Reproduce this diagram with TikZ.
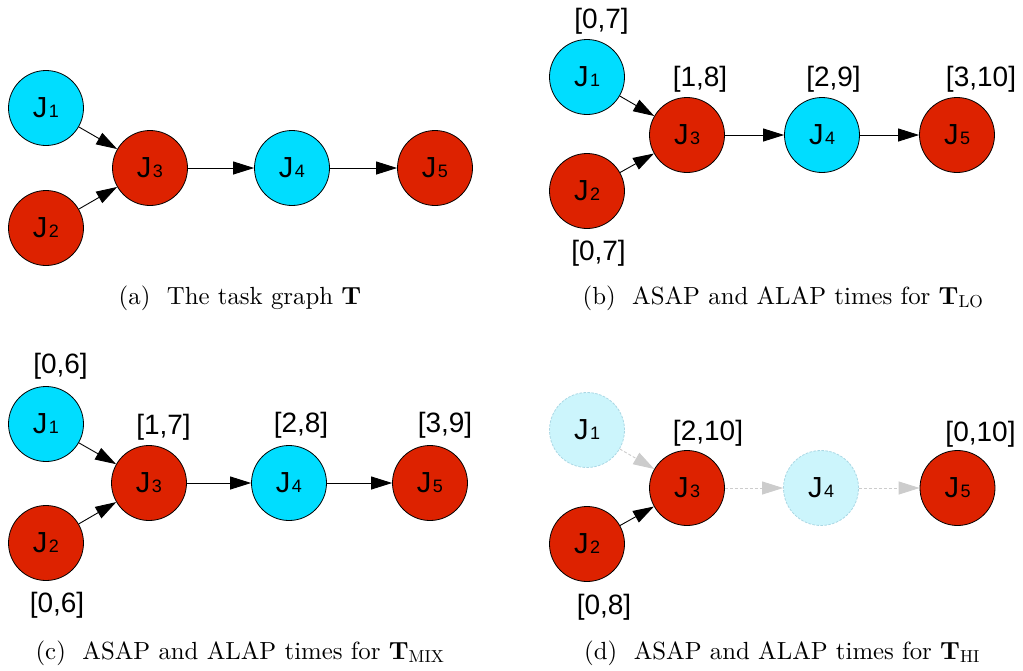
\documentclass[tikz,border=0pt]{standalone}
\usepackage{fontspec}
\setmainfont{lmroman10-regular.otf}[BoldFont=lmroman10-bold.otf]
\newfontfamily\arialfont{Liberation Sans}
\usetikzlibrary{arrows.meta}

\definecolor{jobcyan}{RGB}{0,221,255}
\definecolor{jobred}{RGB}{221,34,0}
\definecolor{fadecyan}{RGB}{204,245,252}
\definecolor{fadeline}{RGB}{170,215,228}
\definecolor{fadeedge}{RGB}{204,204,204}

% job name J with its index set at the baseline, smaller
\newcommand{\jobid}[1]{J\kern1.5pt{\fontsize{18}{18}\selectfont #1}}

\tikzset{
  job/.style={circle, draw=black, line width=0.8pt, minimum size=75pt, inner sep=0pt,
    font=\arialfont\fontsize{29}{29}\selectfont},
  lojob/.style={job, fill=jobcyan},
  hijob/.style={job, fill=jobred},
  dropjob/.style={job, fill=fadecyan, draw=fadeline, dash pattern=on 2.5pt off 1.5pt},
  window/.style={font=\arialfont\fontsize{28}{28}\selectfont, inner sep=0pt},
  dep/.style={line width=0.9pt, -{Triangle[length=21pt,width=13pt]}},
  dropdep/.style={line width=0.9pt, draw=fadeedge, dash pattern=on 3pt off 2pt,
    -{Triangle[length=21pt,width=13pt,color=fadeedge,fill=fadeedge]}},
  caption/.style={font=\fontsize{24.8}{28}\selectfont, inner sep=0pt, anchor=base}
}

\begin{document}
\begin{tikzpicture}[x=1pt,y=-1pt]
\useasboundingbox (0,0) rectangle (1023,670);

% (a) the task graph
\node[lojob] (a1) at (46,108) {\jobid{1}};
\node[hijob] (a2) at (46,228) {\jobid{2}};
\node[hijob] (a3) at (150,168) {\jobid{3}};
\node[lojob] (a4) at (292,168) {\jobid{4}};
\node[hijob] (a5) at (435,168) {\jobid{5}};
\draw[dep] (a1) -- (a3);
\draw[dep] (a2) -- (a3);
\draw[dep] (a3) -- (a4);
\draw[dep] (a4) -- (a5);
\node[caption] (capa) at (240,304) {(a)\ \ The task graph $\mathbf{T}$};

% (b) LO mode
\node[lojob] (b1) at (587,77) {\jobid{1}};
\node[hijob] (b2) at (587,191) {\jobid{2}};
\node[hijob] (b3) at (687,135) {\jobid{3}};
\node[lojob] (b4) at (822,135) {\jobid{4}};
\node[hijob] (b5) at (957,135) {\jobid{5}};
\draw[dep] (b1) -- (b3);
\draw[dep] (b2) -- (b3);
\draw[dep] (b3) -- (b4);
\draw[dep] (b4) -- (b5);
\node[window] (wb1) at (601.5,21) {[0,7]};
\node[window] (wb2) at (598.5,253) {[0,7]};
\node[window] (wb3) at (700,79) {[1,8]};
\node[window] (wb4) at (833.5,79.5) {[2,9]};
\node[window] (wb5) at (981,79.5) {[3,10]};
\node[caption] (capb) at (783,304) {(b)\ \ ASAP and ALAP times for $\mathbf{T}_{\mathrm{LO}}$};

% (c) mixed mode
\node[lojob] (c1) at (46,424) {\jobid{1}};
\node[hijob] (c2) at (46,543) {\jobid{2}};
\node[hijob] (c3) at (149,483) {\jobid{3}};
\node[lojob] (c4) at (289,483) {\jobid{4}};
\node[hijob] (c5) at (430,483) {\jobid{5}};
\draw[dep] (c1) -- (c3);
\draw[dep] (c2) -- (c3);
\draw[dep] (c3) -- (c4);
\draw[dep] (c4) -- (c5);
\node[window] (wc1) at (60.5,366) {[0,6]};
\node[window] (wc2) at (57,605) {[0,6]};
\node[window] (wc3) at (163.5,427) {[1,7]};
\node[window] (wc4) at (301,425) {[2,8]};
\node[window] (wc5) at (445,425) {[3,9]};
\node[caption] (capc) at (240,659) {(c)\ \ ASAP and ALAP times for $\mathbf{T}_{\mathrm{MIX}}$};

% (d) HI mode: LO jobs are dropped
\node[dropjob] (d1) at (587,430) {\jobid{1}};
\node[hijob] (d2) at (587,544) {\jobid{2}};
\node[hijob] (d3) at (687,488) {\jobid{3}};
\node[dropjob] (d4) at (821,488) {\jobid{4}};
\node[hijob] (d5) at (957.5,488) {\jobid{5}};
\draw[dropdep] (d1) -- (d3);
\draw[dep] (d2) -- (d3);
\draw[dropdep] (d3) -- (d4);
\draw[dropdep] (d4) -- (d5);
\node[window] (wd2) at (604,607) {[0,8]};
\node[window] (wd3) at (708,433) {[2,10]};
\node[window] (wd5) at (980.5,434) {[0,10]};
\node[caption] (capd) at (782,659) {(d)\ \ ASAP and ALAP times for $\mathbf{T}_{\mathrm{HI}}$};
\end{tikzpicture}
\end{document}
